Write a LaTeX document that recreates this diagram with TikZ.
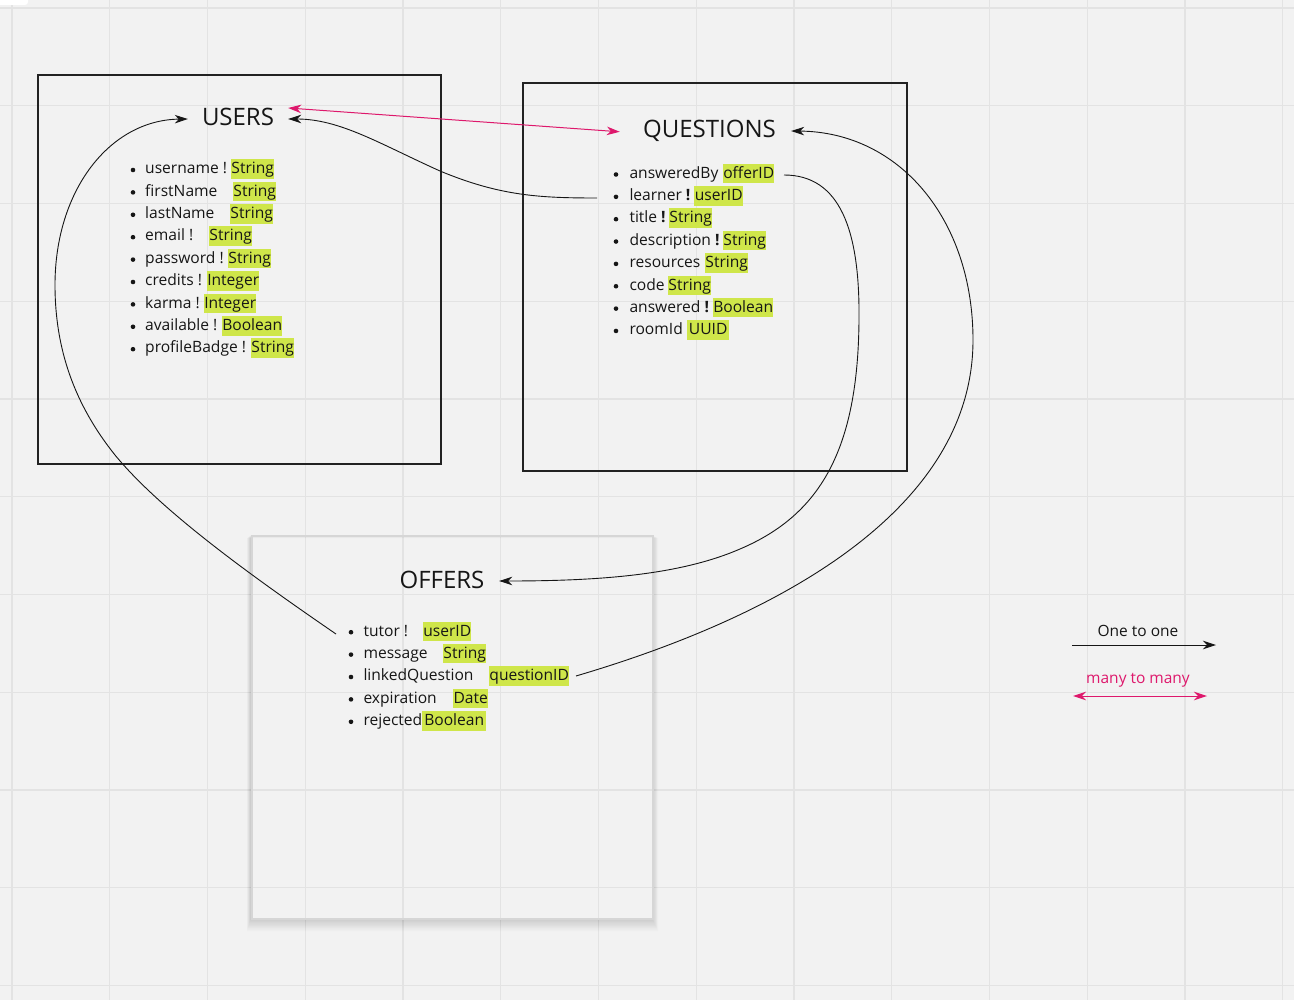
\documentclass[tikz,border=0pt]{standalone}
\usepackage{fontspec}
\setmainfont{Open Sans}
\usetikzlibrary{arrows.meta,calc}
\definecolor{bg}{RGB}{242,242,242}
\definecolor{gridc}{RGB}{227,227,227}
\definecolor{hl}{RGB}{207,230,74}
\definecolor{pinkc}{RGB}{222,24,108}
\definecolor{boxc}{RGB}{34,34,34}
\definecolor{txt}{RGB}{22,22,22}
\definecolor{offedge}{RGB}{214,214,214}
\tikzset{
  mytip/.tip={Stealth[length=13pt,width=8.5pt,inset=4pt]},
  itemfont/.style={font=\fontsize{15.6}{19}\selectfont},
  item/.style={itemfont, anchor=base west, inner sep=0pt, text=txt},
  hlbox/.style={itemfont, anchor=base west, fill=hl, inner xsep=0pt, inner ysep=0pt,
    text height=14.5pt, text depth=5pt, minimum width=#1, text=txt},
  title/.style={font=\fontsize{24}{28}\selectfont, anchor=base, inner sep=0pt,
    text height=17pt, text depth=0pt, text=txt, minimum width=#1},
  entity/.style={draw=boxc, line width=2pt, anchor=north west, inner sep=0pt},
  conn/.style={draw=txt, line width=0.9pt, -{mytip}},
  manyconn/.style={draw=pinkc, line width=1pt, {mytip}-{mytip}},
  legend/.style={font=\fontsize{15.5}{18}\selectfont, anchor=base, inner sep=0pt},
}
\begin{document}
\begin{tikzpicture}[x=1pt,y=-1pt]
\useasboundingbox (0,0) rectangle (1294,1000);
\fill[bg] (0,0) rectangle (1294,1000);
% grid
\foreach \gx in {0,...,13} \draw[gridc, line width=1.4pt] ({12+97.75*\gx},0) -- ({12+97.75*\gx},1000);
\foreach \gy in {0,...,10} \draw[gridc, line width=1.4pt] (0,{8+97.75*\gy}) -- (1294,{8+97.75*\gy});
\fill[white, rounded corners=3pt] (-6,-6) rectangle (28,5);

% entity boxes
\node[entity, minimum width=403pt, minimum height=389pt] (usersBox) at (37,74) {};
\node[entity, minimum width=384pt, minimum height=388pt] (questionsBox) at (522,82) {};
% offers box with soft shadow
\foreach \k in {1,...,10}
  \fill[black, opacity=0.017, even odd rule]
    ({251-0.4*\k},{535+0.3*\k}) rectangle ({652+0.6*\k},{918+1.3*\k})
    (251,535) rectangle (652,918);
\node[draw=offedge, line width=1.5pt, anchor=north west, inner sep=0pt,
      minimum width=401pt, minimum height=383pt] (offersBox) at (251,535) {};

% titles
\node[title=100pt] (usersT) at (238,126) {USERS};
\node[title=163pt] (qT) at (709.5,137.3) {QUESTIONS};
\node[title=114pt] (offT) at (442,588.3) {OFFERS};

% USERS fields
\foreach [count=\i from 0] \nm/\lbl/\typ/\hx/\hw in {
  uname/{username !}/String/231/43,
  fname/{firstName}/String/233/43,
  lname/{lastName}/String/230/43,
  email/{email !}/String/209/43,
  pass/{password !}/String/228/43,
  cred/{credits !}/Integer/207/52,
  karma/{karma !}/Integer/204/52,
  avail/{available !}/Boolean/222/60,
  badge/{profileBadge !}/String/251/43}
{
  \pgfmathsetmacro\by{173.8+22.4*\i}
  \fill[txt] (133,\by-3.8) circle (2.3);
  \node[item] (u-\nm) at (145,\by) {\lbl};
  \node[hlbox=\hw pt] (u-\nm-t) at (\hx,\by) {\typ};
}

% QUESTIONS fields
\foreach [count=\i from 0] \nm/\lbl/\typ/\hx/\hw in {
  ans/{answeredBy}/offerID/723/51,
  lrn/{learner \textbf{!}}/userID/694/49,
  ttl/{title \textbf{!}}/String/669/43,
  desc/{description \textbf{!}}/String/723/43,
  res/{resources}/String/705/43,
  code/{code}/String/668/43,
  answ/{answered \textbf{!}}/Boolean/713/60,
  room/{roomId}/UUID/687/42}
{
  \pgfmathsetmacro\by{178.3+22.35*\i}
  \fill[txt] (616,\by-3.8) circle (2.3);
  \node[item] (q-\nm) at (629.3,\by) {\lbl};
  \node[hlbox=\hw pt] (q-\nm-t) at (\hx,\by) {\typ};
}

% OFFERS fields
\foreach [count=\i from 0] \nm/\lbl/\typ/\hx/\hw in {
  tutor/{tutor !}/userID/423/48,
  msg/{message}/String/443/43,
  lnk/{linkedQuestion}/questionID/489/80,
  exp/{expiration}/Date/453/35,
  rej/{rejected}/Boolean/422/64}
{
  \pgfmathsetmacro\by{636+22.4*\i}
  \fill[txt] (351,\by-3.8) circle (2.3);
  \node[item] (o-\nm) at (363.3,\by) {\lbl};
  \node[hlbox=\hw pt] (o-\nm-t) at (\hx,\by) {\typ};
}

% connector start points
\coordinate (lrnS) at (597,198);
\coordinate (tutS) at (336,634);
\coordinate (ansS) at (784,175);
\coordinate (lnkS) at (576,676);

% many to many USERS <-> QUESTIONS
\draw[manyconn] ([yshift=9.5pt]usersT.east) -- ([xshift=-8pt,yshift=-3pt]qT.west);

% learner -> USERS
\draw[conn] (lrnS) .. controls (540,198) and (500,196) .. (440,171)
  .. controls (380,144) and (340,119) .. ([yshift=-1.5pt]usersT.east);

% tutor -> USERS
\draw[conn] (tutS) .. controls (250,575) and (160,510) .. (115,455)
  .. controls (75,405) and (55,350) .. (55,285)
  .. controls (55,190) and (110,120) .. ([yshift=-1.5pt]usersT.west);

% answeredBy -> OFFERS
\draw[conn] (ansS) .. controls (840,175) and (860,230) .. (859,320)
  .. controls (858,450) and (820,515) .. (740,549)
  .. controls (680,575) and (600,581) .. ([yshift=-1.2pt]offT.east);

% linkedQuestion -> QUESTIONS
\draw[conn] (lnkS) .. controls (800,610) and (973,500) .. (973,340)
  .. controls (973,220) and (900,132) .. ([yshift=-2.2pt]qT.east);

% legend
\node[legend, text=txt] (oneT) at (1138,636.7) {One to one};
\coordinate (oneA) at (1072,645);
\coordinate (oneB) at (1216,645);
\draw[conn] (oneA) -- (oneB);
\node[legend, text=pinkc] (manyT) at (1138,683.3) {many to many};
\coordinate (manyA) at (1073,696);
\coordinate (manyB) at (1207,696);
\draw[manyconn] (manyA) -- (manyB);
\end{tikzpicture}
\end{document}
